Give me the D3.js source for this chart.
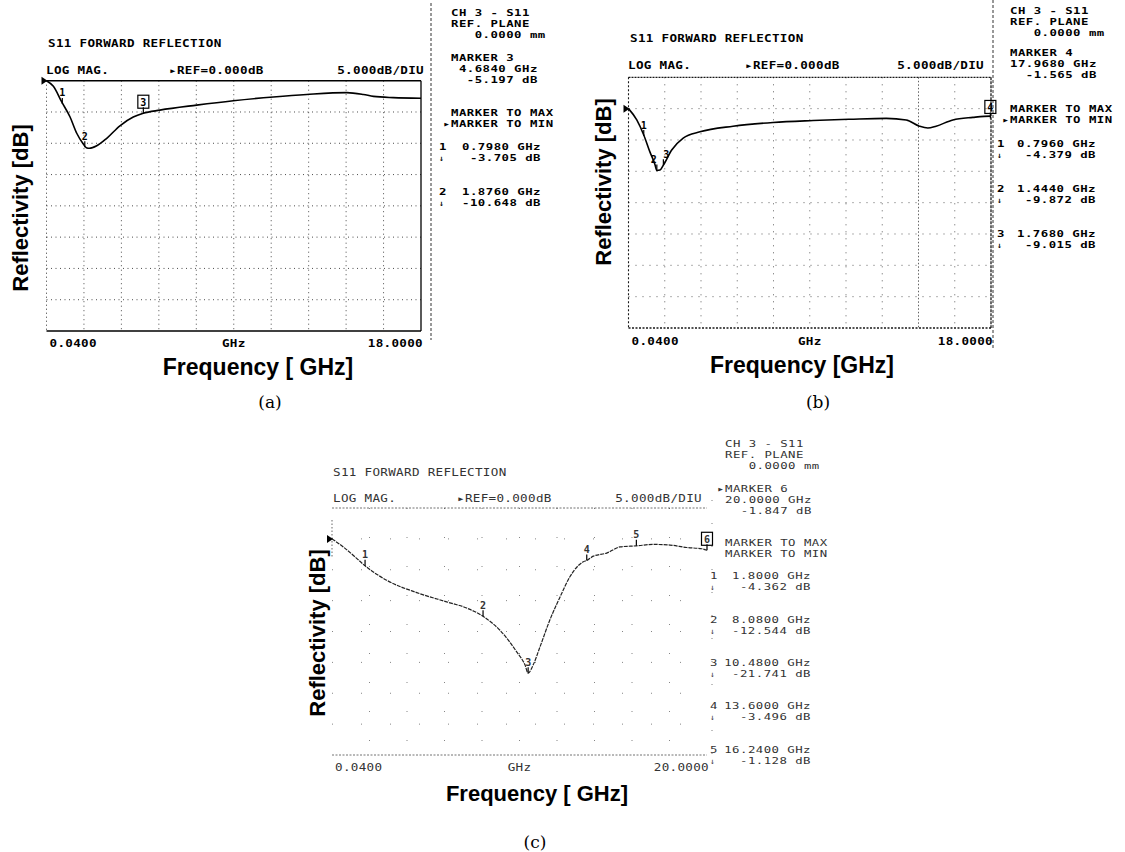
<!DOCTYPE html>
<html>
<head>
<meta charset="utf-8">
<script src="https://cdn.jsdelivr.net/npm/d3@7"></script>
<style>
  body { margin: 0; background: #fff; }
  svg { display: block; }
  .mono { font-family: "DejaVu Sans Mono", monospace; }
  .axlab { font-family: "Liberation Sans", Arial, sans-serif; font-weight: bold; }
  .cap { font-family: "DejaVu Serif", serif; font-size: 17px; }
</style>
</head>
<body>
<script>
// ---- data ----
// (a)
var freqA = [0.04, 0.37, 0.77, 1.17, 1.49, 1.78, 1.95, 2.1, 2.45, 2.93, 3.56, 4.2, 4.68, 5.48, 7.24, 9.0, 10.92, 12.52, 14.44, 15.24, 15.72, 16.67, 18.0];
var dbA   = [0, -0.9, -3.4, -5.8, -8.4, -10.0, -10.7, -10.8, -10.4, -9.2, -7.2, -5.8, -5.2, -4.7, -3.9, -3.2, -2.6, -2.2, -1.9, -2.2, -2.5, -2.7, -2.8];
var markerFreqA = [0.798, 1.876, 4.684];
var markerDbA   = [-3.705, -10.648, -5.197];
var readoutA = ["CH 3 - S11", "REF. PLANE", "   0.0000 mm", "MARKER 3", " 4.6840 GHz", "  -5.197 dB", "MARKER TO MAX", "\u25B8MARKER TO MIN"];
var listA = [["1", "0.7980 GHz", "-3.705 dB"], ["2", "1.8760 GHz", "-10.648 dB"]];

// (b)
var freqB = [0.04, 0.45, 0.796, 1.1, 1.35, 1.444, 1.6, 1.768, 2.18, 2.75, 3.58, 5.22, 7.2, 9.18, 10.99, 12.81, 13.8, 14.45, 14.87, 15.28, 16.11, 17.1, 17.968, 18.0];
var dbB   = [0, -1.8, -4.2, -6.9, -8.9, -9.872, -9.8, -9.015, -6.6, -4.7, -3.7, -2.8, -2.2, -1.9, -1.7, -1.55, -1.8, -2.8, -3.1, -2.8, -1.8, -1.4, -1.2, -1.2];
var markerFreqB = [0.796, 1.444, 1.768, 17.968];
var markerDbB   = [-4.379, -9.872, -9.015, -1.565];
var readoutB = ["CH 3 - S11", "REF. PLANE", "   0.0000 mm", "MARKER 4", "17.9680 GHz", "  -1.565 dB", "MARKER TO MAX", "\u25B8MARKER TO MIN"];
var listB = [["1", "0.7960 GHz", "-4.379 dB"], ["2", "1.4440 GHz", "-9.872 dB"], ["3", "1.7680 GHz", "-9.015 dB"]];

// (c)
var freqC = [0.04, 0.64, 1.26, 1.8, 2.95, 4.55, 6.14, 7.21, 8.08, 8.98, 9.87, 10.31, 10.48, 10.75, 11.11, 11.64, 12.18, 12.71, 13.42, 13.6, 13.95, 14.66, 15.37, 16.24, 17.14, 18.03, 18.92, 19.72, 20.0];
var dbC   = [0, -1.3, -2.9, -4.362, -6.7, -8.7, -10.2, -11.2, -12.544, -14.8, -18.3, -20.4, -21.741, -20.4, -17.5, -13.1, -9.4, -6.1, -3.7, -3.496, -2.8, -2.3, -1.3, -1.128, -0.9, -1.0, -1.4, -1.6, -1.847];
var markerFreqC = [1.8, 8.08, 10.48, 13.6, 16.24, 20.0];
var markerDbC   = [-4.362, -12.544, -21.741, -3.496, -1.128, -1.847];
var readoutC = ["CH 3 - S11", "REF. PLANE", "   0.0000 mm", "\u25B8MARKER 6", "20.0000 GHz", "  -1.847 dB", "MARKER TO MAX", "MARKER TO MIN"];
var listC = [["1", "1.8000 GHz", "-4.362 dB"], ["2", "8.0800 GHz", "-12.544 dB"], ["3", "10.4800 GHz", "-21.741 dB"], ["4", "13.6000 GHz", "-3.496 dB"], ["5", "16.2400 GHz", "-1.128 dB"]];

var headerText = ["LOG MAG.", "\u25B8REF=0.000dB", "5.000dB/DIU"];
var titleText = "S11 FORWARD REFLECTION";
var xTicksAB = ["0.0400", "GHz", "18.0000"];
var xTicksC = ["0.0400", "GHz", "20.0000"];

// ---- layout ----
var panels = [
  { freq: freqA, db: dbA, mf: markerFreqA, md: markerDbA, active: 2, readout: readoutA, list: listA,
    fMax: 18, yDom: [0, -40], box: [46.5, 80.7, 421, 331], ticks: xTicksAB, labDx: [0, 0, 0],
    title: [48, 43], header: [46, 169, 424, 70], tickY: 343,
    sep: [431, 3, 340], colX: 451, rightX: 541, numX: 443,
    readY: [13, 24, 35, 58, 69, 80, 113, 124], listY: [147, 192],
    xLab: ["Frequency [ GHz]", 258, 367, 23], yLab: [20, 208, 22], cap: ["(a)", 270, 402],
    grid: "1,3.5", gridOp: 0.8, frame: "a", ink: "#000", weight: "bold", denseCol: -1 },
  { freq: freqB, db: dbB, mf: markerFreqB, md: markerDbB, active: 3, readout: readoutB, list: listB,
    fMax: 18, yDom: [5, -35], box: [628.5, 77.3, 991, 328], ticks: xTicksAB, labDx: [0, -3, 3, 0],
    title: [630, 38], header: [628, 745, 984, 65], tickY: 341,
    sep: [993, 0, 350], colX: 1010, rightX: 1096, numX: 1001,
    readY: [11, 22, 33, 53, 64, 75, 109, 120], listY: [144, 189, 234],
    xLab: ["Frequency [GHz]", 802, 365, 23], yLab: [603, 182, 22], cap: ["(b)", 818, 402],
    grid: "1,6", gridOp: 0.7, frame: "b", ink: "#000", weight: "bold", denseCol: 7 },
  { freq: freqC, db: dbC, mf: markerFreqC, md: markerDbC, active: 5, readout: readoutC, list: listC,
    fMax: 20, yDom: [5, -35], box: [332, 508, 707, 755], ticks: xTicksC, labDx: [0, 0, 0, 0, 0, 0],
    title: [333, 472], header: [333, 457, 702, 498], tickY: 767,
    sep: [712, 500, 770], colX: 725, rightX: 811, numX: 714,
    readY: [444, 455, 466, 489, 500, 511, 543, 554], listY: [576, 620, 663, 706, 750],
    xLab: ["Frequency [ GHz]", 537, 793, 22], yLab: [317, 633, 22], cap: ["(c)", 535, 842],
    grid: "1,28", gridOp: 0.55, frame: "c", ink: "#333", weight: "normal", denseCol: -1 }
];

var CHAR_W = 7.9; // plotter character pitch

var svg = d3.select("body").append("svg")
  .attr("width", 1125)
  .attr("height", 852);

// wide plotter-style text: narrow mono font stretched horizontally
function ptext(g, x, y, str, anchor, size, sx, ink, weight) {
  var ls = CHAR_W / sx - 0.602 * size;
  return g.append("text").attr("class", "mono")
    .attr("transform", "translate(" + x + "," + y + ") scale(" + sx + ",1)")
    .attr("text-anchor", anchor || "start")
    .attr("dominant-baseline", "central")
    .attr("xml:space", "preserve")
    .style("white-space", "pre")
    .style("font-size", size + "px")
    .style("font-weight", weight)
    .style("letter-spacing", ls + "px")
    .attr("fill", ink)
    .text(str);
}

function drawPanel(p) {
  var g = svg.append("g");
  var x0 = p.box[0], y0 = p.box[1], x1 = p.box[2], y1 = p.box[3];

  var xScale = d3.scaleLinear().domain([0.04, p.fMax]).range([x0, x1]);
  var yScale = d3.scaleLinear().domain(p.yDom).range([y0, y1]);

  // grid, 10 x divisions and 5 dB per y division
  var xs = d3.range(1, 10).map(function(i) { return x0 + i * (x1 - x0) / 10; });
  var ys = d3.range(p.yDom[0] - 5, p.yDom[1], -5);
  g.selectAll(".vg").data(xs).enter().append("line")
    .attr("x1", d => d).attr("x2", d => d).attr("y1", y0).attr("y2", y1)
    .attr("stroke", "#222").attr("stroke-width", 1)
    .attr("stroke-dasharray", (d, i) => i == p.denseCol ? "1.5,2" : p.grid)
    .attr("opacity", p.gridOp);
  g.selectAll(".hg").data(ys).enter().append("line")
    .attr("x1", x0).attr("x2", x1).attr("y1", d => yScale(d)).attr("y2", d => yScale(d))
    .attr("stroke", "#222").attr("stroke-width", 1)
    .attr("stroke-dasharray", p.grid).attr("opacity", p.gridOp);

  // frame
  function edge(ax, ay, bx, by, w, dash, op) {
    g.append("line").attr("x1", ax).attr("y1", ay).attr("x2", bx).attr("y2", by)
      .attr("stroke", "#000").attr("stroke-width", w)
      .attr("stroke-dasharray", dash).attr("opacity", op);
  }
  if (p.frame == "a") {
    edge(x0, y0, x1, y0, 1.5, null, 1);
    edge(x0, y1, x1, y1, 1.5, null, 1);
    edge(x1, y0, x1, y1, 1.3, null, 1);
    edge(x0, y0, x0, y1, 1, "1,3", 0.8);
  } else if (p.frame == "b") {
    edge(x0, y0, x1, y0, 1.3, "2,1", 0.9);
    edge(x0, y1, x1, y1, 1.3, "2,1.5", 0.9);
    edge(x1, y0, x1, y1, 1.3, "3,1", 0.9);
    edge(x0, y0, x0, y1, 1.1, "2,2", 0.9);
  } else {
    edge(x0, y0, x1, y0, 1, "2,1.5", 0.55);
    edge(x0, y1, x1, y1, 1, "2,1.5", 0.55);
    edge(x0, y0 + 12, x0, y0 + 50, 1, "1.5,2", 0.6);
  }

  // separator between trace area and readout column
  g.append("line")
    .attr("x1", p.sep[0]).attr("x2", p.sep[0]).attr("y1", p.sep[1]).attr("y2", p.sep[2])
    .attr("stroke", "#000").attr("stroke-width", 1)
    .attr("stroke-dasharray", p.frame == "c" ? "1,22" : "3,2")
    .attr("opacity", p.frame == "c" ? 0.5 : 0.8);

  // reference arrow
  var ry = yScale(0);
  g.append("path")
    .attr("d", "M" + (x0 - 5) + "," + (ry - 4) + "L" + (x0 + 1) + "," + ry + "L" + (x0 - 5) + "," + (ry + 4) + "Z")
    .attr("fill", "#000");

  // trace
  var pts = p.freq.map(function(f, i) { return [f, p.db[i]]; });
  var line = d3.line()
    .x(d => xScale(d[0]))
    .y(d => yScale(d[1]))
    .curve(d3.curveMonotoneX);
  g.append("path")
    .datum(pts)
    .attr("d", line)
    .attr("fill", "none")
    .attr("stroke", p.frame == "c" ? "#222" : "#000")
    .attr("stroke-width", p.frame == "c" ? 1.2 : 1.6)
    .attr("stroke-dasharray", p.frame == "c" ? "4,1" : null);

  // markers
  p.mf.forEach(function(f, i) {
    var mx = xScale(f), my = yScale(p.md[i]);
    g.append("line")
      .attr("x1", mx).attr("x2", mx).attr("y1", my - 6).attr("y2", my)
      .attr("stroke", "#000").attr("stroke-width", 1.2);
    g.append("text").attr("class", "mono")
      .attr("x", mx + p.labDx[i]).attr("y", my - 11)
      .attr("text-anchor", "middle").attr("dominant-baseline", "central")
      .style("font-size", "10px").style("font-weight", "bold")
      .attr("fill", p.ink)
      .text(String(i + 1));
    if (i == p.active) {
      g.append("rect")
        .attr("x", mx - 5.5).attr("y", my - 18).attr("width", 11).attr("height", 13)
        .attr("fill", "none").attr("stroke", "#000").attr("stroke-width", 1.2);
    }
  });

  // title + header line
  ptext(g, p.title[0], p.title[1], titleText, "start", 10.5, 1.2, p.ink, p.weight);
  ptext(g, p.header[0], p.header[3], headerText[0], "start", 10.5, 1.2, p.ink, p.weight);
  ptext(g, p.header[1], p.header[3], headerText[1], "start", 10.5, 1.2, p.ink, p.weight);
  ptext(g, p.header[2], p.header[3], headerText[2], "end", 10.5, 1.2, p.ink, p.weight);

  // x tick labels: start, unit in the middle, stop
  var tx = [x0 + 3, (x0 + x1) / 2, x1 + 2];
  var ta = ["start", "middle", "end"];
  p.ticks.forEach(function(t, i) {
    ptext(g, tx[i], p.tickY, t, ta[i], 10.5, 1.2, p.ink, p.weight);
  });

  // readout column (pointer rows start one character to the left)
  p.readout.forEach(function(t, i) {
    var xx = t.charAt(0) == "\u25B8" ? p.colX - CHAR_W : p.colX;
    ptext(g, xx, p.readY[i], t, "start", 9.5, 1.3, p.ink, p.weight);
  });

  // marker list: number, frequency, arrow, level
  p.list.forEach(function(row, i) {
    var yy = p.listY[i];
    ptext(g, p.numX, yy, row[0], "middle", 9.5, 1.3, p.ink, p.weight);
    ptext(g, p.rightX, yy, row[1], "end", 9.5, 1.3, p.ink, p.weight);
    ptext(g, p.numX, yy + 11, "\u2193", "middle", 8, 1.0, p.ink, p.weight);
    ptext(g, p.rightX, yy + 11, row[2], "end", 9.5, 1.3, p.ink, p.weight);
  });

  // axis titles
  g.append("text").attr("class", "axlab")
    .attr("x", p.xLab[1]).attr("y", p.xLab[2])
    .attr("text-anchor", "middle").attr("dominant-baseline", "central")
    .style("font-size", p.xLab[3] + "px")
    .text(p.xLab[0]);
  g.append("text").attr("class", "axlab")
    .attr("transform", "translate(" + p.yLab[0] + "," + p.yLab[1] + ") rotate(-90)")
    .attr("text-anchor", "middle").attr("dominant-baseline", "central")
    .style("font-size", p.yLab[2] + "px")
    .text("Reflectivity [dB]");

  // sub-figure caption
  g.append("text").attr("class", "cap")
    .attr("x", p.cap[1]).attr("y", p.cap[2])
    .attr("text-anchor", "middle").attr("dominant-baseline", "central")
    .text(p.cap[0]);
}

panels.forEach(drawPanel);
</script>
</body>
</html>
